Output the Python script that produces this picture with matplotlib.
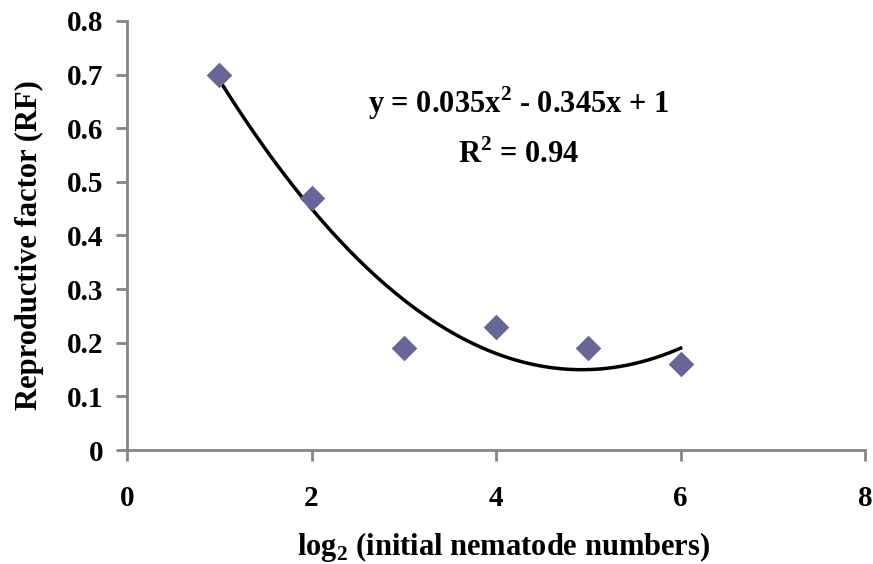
import numpy as np
import matplotlib.pyplot as plt

plt.rcParams['font.family'] = ['Liberation Serif', 'DejaVu Serif']
plt.rcParams['font.weight'] = 'bold'
plt.rcParams['mathtext.fontset'] = 'custom'
plt.rcParams['mathtext.rm'] = 'Liberation Serif:bold'
plt.rcParams['mathtext.bf'] = 'Liberation Serif:bold'

# data
x_vals = [1, 2, 3, 4, 5, 6]
rf_vals = [0.70, 0.47, 0.19, 0.23, 0.19, 0.16]
# trendline coefficients as printed on the chart (a*x^2 + b*x + c)
coef = [0.035, -0.345, 1.0]
eq_text = "y = 0.035x$^{2}$ - 0.345x + 1"
r2_text = "R$^{2}$ = 0.94"
xticks = [0, 2, 4, 6, 8]
yticks = [0, 0.1, 0.2, 0.3, 0.4, 0.5, 0.6, 0.7, 0.8]

fig = plt.figure(figsize=(8.73, 5.64), dpi=100)
ax = fig.add_axes([0.1455, 0.202, 0.8455, 0.761])

grey = '#858585'
xs = np.linspace(min(x_vals), max(x_vals), 200)
ax.plot(xs, np.polyval(coef, xs), color='black', lw=2.5, zorder=2)
ax.scatter(x_vals, rf_vals, marker='D', s=170, color='#666699', zorder=3, linewidths=0)

ax.set_xlim(0, 8)
ax.set_ylim(0, 0.8)
ax.set_xticks(xticks)
ax.set_yticks(yticks)
ax.set_xticklabels([str(t) for t in xticks])
ax.set_yticklabels(['0'] + ['%.1f' % t for t in yticks[1:]])

for s in ['top', 'right']:
    ax.spines[s].set_visible(False)
for s in ['left', 'bottom']:
    ax.spines[s].set_color(grey)
    ax.spines[s].set_linewidth(2)

ax.tick_params(axis='y', direction='out', length=8, width=2, color=grey,
               labelsize=21, pad=9)
ax.tick_params(axis='x', direction='out', length=8, width=2, color=grey,
               labelsize=21, pad=17)

ax.set_ylabel('Reproductive factor (RF)', fontsize=22, fontweight='bold')
ax.set_xlabel('log$_{2}$ (initial nematode numbers)', fontsize=22, fontweight='bold')
ax.yaxis.set_label_coords(-0.113, 0.478)
ax.xaxis.set_label_coords(0.51, -0.187)

ax.text(4.24, 0.647, eq_text, fontsize=22, fontweight='bold', ha='center', va='center')
ax.text(4.24, 0.55, r2_text, fontsize=22, fontweight='bold', ha='center', va='center')

plt.savefig('out.png', dpi=100)
